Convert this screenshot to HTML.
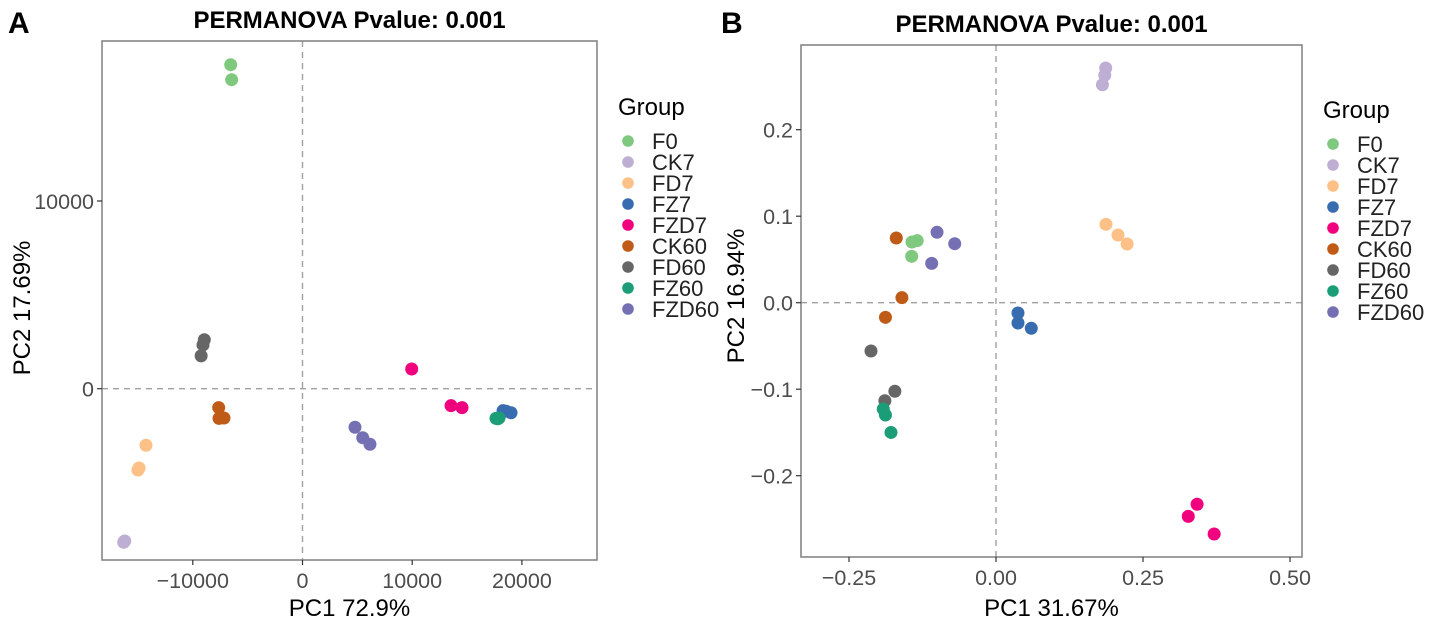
<!DOCTYPE html>
<html><head><meta charset="utf-8"><style>
body{margin:0;background:#fff;}
svg{display:block;font-family:"Liberation Sans",Arial,sans-serif;}
</style></head><body>
<svg id="chart" width="1429" height="624" viewBox="0 0 1429 624"></svg>
<script>
const groups = ["F0","CK7","FD7","FZ7","FZD7","CK60","FD60","FZ60","FZD60"];
const colors = ["#7FC97F","#BEAED4","#FDC086","#386CB0","#F0027F","#BF5B17","#666666","#1B9E77","#7570B3"];
// Panel A data (PC1, PC2)
const aGroup = ["F0","F0","FD60","FD60","FD60","CK60","CK60","CK60","FD7","FD7","FD7","CK7","CK7","FZD60","FZD60","FZD60","FZD7","FZD7","FZD7","FZ7","FZ7","FZ7","FZ60","FZ60","FZ60"];
const aX = [-6545,-6460,-8950,-9070,-9240,-7640,-7610,-7160,-14270,-14900,-15000,-16210,-16300,4785,5490,6150,9955,13540,14540,18280,18550,19010,17640,17910,17800];
const aY = [17262,16462,2610,2330,1750,-1010,-1580,-1560,-3015,-4225,-4330,-8115,-8180,-2055,-2610,-2960,1050,-905,-1010,-1170,-1200,-1280,-1580,-1560,-1600];
const aXTicks = [-10000,0,10000,20000];
const aXTickLabels = ["\u221210000","0","10000","20000"];
const aYTicks = [0,10000];
const aYTickLabels = ["0","10000"];
// Panel B data
const bGroup = ["CK7","CK7","CK7","FD7","FD7","FD7","F0","F0","F0","CK60","CK60","CK60","FZD60","FZD60","FZD60","FD60","FD60","FD60","FZ60","FZ60","FZ60","FZ7","FZ7","FZ7","FZD7","FZD7","FZD7"];
const bX = [0.1866,0.185,0.181,0.187,0.2075,0.223,-0.1429,-0.134,-0.1434,-0.1696,-0.16,-0.188,-0.1003,-0.0702,-0.1094,-0.2126,-0.172,-0.189,-0.1917,-0.188,-0.1786,0.0374,0.0374,0.060,0.342,0.327,0.371];
const bY = [0.2713,0.263,0.252,0.0906,0.0783,0.0679,0.0702,0.0717,0.0536,0.0748,0.0058,-0.0169,0.0814,0.0682,0.0455,-0.0558,-0.1024,-0.1133,-0.1229,-0.1298,-0.150,-0.0119,-0.0235,-0.0296,-0.233,-0.247,-0.2674];
const bXTicks = [-0.25,0,0.25,0.5];
const bXTickLabels = ["\u22120.25","0.00","0.25","0.50"];
const bYTicks = [-0.2,-0.1,0,0.1,0.2];
const bYTickLabels = ["\u22120.2","\u22120.1","0.0","0.1","0.2"];

const NS="http://www.w3.org/2000/svg";
const svg=document.getElementById('chart');
function mk(tag,attrs,parent,text){const e=document.createElementNS(NS,tag);for(const k in attrs)e.setAttribute(k,attrs[k]);if(text!==undefined)e.textContent=text;(parent||svg).appendChild(e);return e;}

function panel(cfg){
  const g=mk('g',{});
  
  
  const sx=v=>cfg.x0+v*cfg.kx, sy=v=>cfg.y0-v*cfg.ky;
  const L=mk('text',{x:cfg.letterX,y:33,'font-size':30,'font-weight':'bold',fill:'#000'},g,cfg.letter);
  
  
  const T=mk('text',{x:(cfg.l+cfg.r)/2,y:cfg.titleY,'font-size':24,'font-weight':'bold','text-anchor':'middle',fill:'#000'},g,'PERMANOVA Pvalue: 0.001');
  
  
  const h=mk('line',{x1:cfg.l,x2:cfg.r,y1:sy(0),y2:sy(0),stroke:'#a0a0a0','stroke-width':1.4,'stroke-dasharray':'6,5'},g);
  
  
  const v=mk('line',{x1:sx(0),x2:sx(0),y1:cfg.t,y2:cfg.b,stroke:'#a0a0a0','stroke-width':1.4,'stroke-dasharray':'6,5'},g);
  
  
  cfg.xs.forEach((xv,i)=>{
    const c=mk('circle',{cx:sx(xv),cy:sy(cfg.ys[i]),r:6.5,fill:colors[groups.indexOf(cfg.gs[i])]},g);
    
    
  });
  const fr=mk('rect',{x:cfg.l,y:cfg.t,width:cfg.r-cfg.l,height:cfg.b-cfg.t,fill:'none',stroke:'#7f7f7f','stroke-width':1.5},g);
  
  
  cfg.xt.forEach((t,i)=>{
    mk('line',{x1:sx(t),x2:sx(t),y1:cfg.b,y2:cfg.b+5,stroke:'#333','stroke-width':1.2},g);
    const tl=mk('text',{x:sx(t),y:cfg.b+28,'font-size':21.5,'text-anchor':'middle',fill:'#4d4d4d'},g,cfg.xtl[i]);
    
    
  });
  cfg.yt.forEach((t,i)=>{
    mk('line',{x1:cfg.l-5,x2:cfg.l,y1:sy(t),y2:sy(t),stroke:'#333','stroke-width':1.2},g);
    const tl=mk('text',{x:cfg.l-8,y:sy(t)+8,'font-size':21.5,'text-anchor':'end',fill:'#4d4d4d'},g,cfg.ytl[i]);
    
    
  });
  const xl=mk('text',{x:(cfg.l+cfg.r)/2,y:616,'font-size':24,'text-anchor':'middle',fill:'#000'},g,cfg.xlab);
  
  
  const yx=cfg.ylabX, yy=cfg.ylabY;
  const yl=mk('text',{x:yx,y:yy,'font-size':24,'text-anchor':'middle',fill:'#000',transform:`rotate(-90 ${yx} ${yy})`},g,cfg.ylab);
  
  
  const lg=mk('g',{},g);
  
  
  mk('text',{x:cfg.legX,y:cfg.legY,'font-size':24,fill:'#000'},lg,'Group');
  groups.forEach((gn,i)=>{
    const yy2=cfg.legY+26+i*21;
    const e=mk('g',{},lg);
    
    
    mk('circle',{cx:cfg.legX+10,cy:yy2,r:5.8,fill:colors[i]},e);
    mk('text',{x:cfg.legX+34,y:yy2+8,'font-size':22,fill:'#222'},e,gn);
  });
}
panel({id:'a',letter:'A',letterX:8,titleY:28,l:102,r:597,t:41,b:560,x0:302.5,kx:0.01097,y0:388.7,ky:0.01877,
  xs:aX,ys:aY,gs:aGroup,xt:aXTicks,xtl:aXTickLabels,yt:aYTicks,ytl:aYTickLabels,
  xlab:'PC1 72.9%',ylab:'PC2 17.69%',ylabX:30,ylabY:308,legX:618,legY:115});
panel({id:'b',letter:'B',letterX:721,titleY:32,l:801,r:1302,t:45,b:557,x0:996,kx:588,y0:302.7,ky:865,
  xs:bX,ys:bY,gs:bGroup,xt:bXTicks,xtl:bXTickLabels,yt:bYTicks,ytl:bYTickLabels,
  xlab:'PC1 31.67%',ylab:'PC2 16.94%',ylabX:744,ylabY:296,legX:1323,legY:118});
</script>
</body></html>
